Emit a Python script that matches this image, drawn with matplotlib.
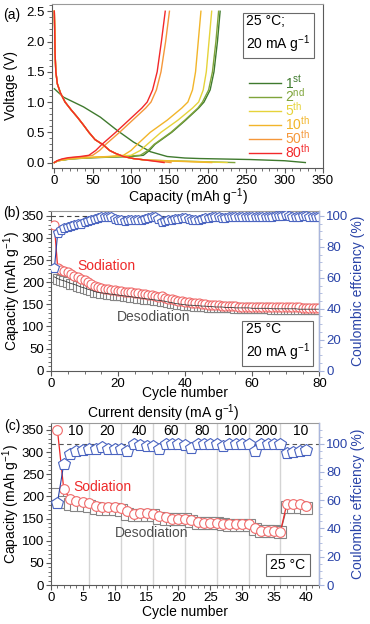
import matplotlib
matplotlib.use("Agg")
import matplotlib.pyplot as plt
import matplotlib.transforms as mtransforms
from matplotlib.ticker import AutoMinorLocator, MultipleLocator

plt.rcParams['font.family'] = ['Liberation Sans', 'DejaVu Sans']
plt.rcParams['mathtext.fontset'] = 'custom'
plt.rcParams['mathtext.rm'] = 'Liberation Sans'
plt.rcParams['mathtext.it'] = 'Liberation Sans:italic'
plt.rcParams['mathtext.bf'] = 'Liberation Sans:bold'

# ---------------- panel (a): voltage profiles ----------------
cycle_names = ['1$^{\\rm st}$', '2$^{\\rm nd}$', '5$^{\\rm th}$', '10$^{\\rm th}$', '50$^{\\rm th}$', '80$^{\\rm th}$']
cycle_colors = ['#3f7a2e', '#7fa43a', '#e6d33a', '#f2b52a', '#f5973a', '#f2282a']

# 1st discharge (sodiation)
dis1_cap = [0, 12, 38, 60, 82, 103, 125, 147, 170, 190, 255, 300, 327]
dis1_v = [1.22, 1.08, 0.92, 0.75, 0.53, 0.34, 0.18, 0.10, 0.075, 0.066, 0.05, 0.03, 0.0]

# later discharges share the sloping part, end capacities differ
dis_cap = [0, 0.5, 1, 2, 4, 8, 14, 22, 30, 38, 45, 53, 64, 72, 80, 90, 103, 120]
dis_v = [2.5, 2.2, 1.8, 1.5, 1.3, 1.15, 1.0, 0.87, 0.75, 0.62, 0.5, 0.38, 0.29, 0.2, 0.15, 0.1, 0.066, 0.04]
dis_end = [235, 225, 205, 152, 143]   # 2nd, 5th, 10th, 50th, 80th

# charge (desodiation) capacities read at these voltages
chg_v = [0.0, 0.03, 0.06, 0.08, 0.1, 0.12, 0.2, 0.3, 0.5, 0.7, 0.9, 1.0, 1.2, 1.5, 2.0, 2.5]
chg1 = [0, 5, 22, 50, 100, 116, 124, 131, 153, 171, 188, 195, 203, 208, 212.5, 216]
chg2 = [0, 5, 20, 45, 90, 112, 122, 130, 152, 170, 187, 193, 201, 206, 210.5, 214]
chg5 = [0, 5, 20, 42, 78, 100, 112, 121, 139, 161, 180, 188, 194, 198, 201.5, 205]
chg10 = [0, 5, 18, 38, 70, 90, 100, 108, 125, 147, 166, 174, 180, 184, 187.5, 191]
chg50 = [0, 4, 12, 22, 40, 50, 59, 67, 85, 102, 119, 126, 133, 139, 145, 150]
chg80 = [0, 3.5, 10, 18, 34, 45, 54, 62, 80, 97, 114, 121, 128, 134, 139.5, 144.5]

# ---------------- panel (b): 80 cycles at 20 mA/g ----------------
cyc_b = list(range(1, 81))
sod_b = [329, 232, 228, 226, 224, 218, 214, 211, 207, 204,
         200, 196, 192, 189, 187, 185, 184, 183, 182, 181,
         180, 179, 178, 177, 176, 175, 174, 173, 171, 170,
         168, 166, 168, 164, 162, 161, 160, 158, 157, 156,
         155, 154, 153, 152, 151, 150, 149, 149, 148, 148,
         147, 147, 146, 146, 146, 145, 145, 145, 145, 145,
         145, 144, 144, 144, 144, 144, 144, 143, 143, 143,
         143, 143, 143, 143, 142, 142, 142, 142, 142, 142]
desod_b = [212, 208, 205, 203, 200, 197, 195, 192, 189, 187,
           184, 182, 179, 177, 176, 175, 174, 173, 172, 171,
           170, 169, 168, 167, 166, 165, 164, 163, 162, 161,
           160, 159, 158, 157, 155, 154, 152, 151, 150, 149,
           148, 148, 147, 147, 146, 146, 145, 145, 144, 144,
           144, 143, 143, 143, 142, 142, 142, 142, 142, 141,
           141, 141, 141, 141, 141, 140, 140, 140, 140, 140,
           140, 140, 140, 139, 139, 139, 139, 139, 139, 139]
ce_b = [66, 89, 91, 92, 93, 93.5, 94, 95, 95, 96,
        96.5, 97, 98, 98.5, 99, 99.5, 99.5, 99, 98, 97.5,
        97, 96.5, 97, 97.5, 97.5, 97, 97.5, 98, 98.5, 99,
        99.5, 98, 96, 96.5, 97, 97.5, 98, 98, 98.5, 98.5,
        98, 97.5, 97, 97.5, 98, 98.5, 98.5, 99, 99, 99,
        98.5, 98.5, 99, 99, 99.5, 99, 99, 99.5, 99.5, 99.5,
        99, 99, 99.5, 99.5, 99, 99.5, 100, 100, 100, 100.5,
        100, 99.5, 99, 99.5, 100, 100, 99.5, 99, 99, 99.5]

# ---------------- panel (c): rate test ----------------
cyc_c = list(range(1, 41))
sod_c = [351, 217, 193, 190, 188, 186, 178, 175, 175, 175,
         173, 166, 160, 162, 162, 160, 156, 153, 150, 150,
         150, 147, 143, 141, 141, 141, 138, 137, 137, 137,
         137, 129, 123, 122, 122, 120, 183, 182, 183, 178]
desod_c = [205, 188, 182, 180, 180, 178, 174, 172, 172, 172,
           170, 160, 158, 158, 158, 158, 152, 150, 150, 150,
           148, 144, 141, 141, 140, 140, 137, 135, 135, 135,
           135, 127, 122, 121, 121, 120, 175, 175, 175, 174]
ce_c = [58, 85.5, 93, 95, 95.7, 96.2, 96.5, 97.5, 96.5, 96.5,
        96, 94.5, 99.5, 99, 98.5, 98.5, 96, 99.5, 99.5, 99.5,
        99.3, 97, 99.5, 99.5, 99.5, 99.5, 98, 99.5, 99.5, 99.5,
        99.5, 95, 99.5, 99.5, 99.5, 99.5, 93.5, 94, 94.6, 95.7]
rate_labels = ['10', '20', '40', '60', '80', '100', '200', '10']
rate_x = [3.9, 8.8, 13.8, 18.8, 23.7, 28.9, 33.7, 39.2]
rate_edges = [6, 11, 16, 21, 26, 31, 36]

RED = '#ee2a2a'
RED_M = '#f06a6a'
GRAY_M = '#858585'
DARK = '#3a3a3a'
BLUE = '#2a44a8'
BLUE_M = '#4a64c0'
BLUE_AX = '#a9b6dc'
FS = 9.5


def style_axes(ax):
    for s in ax.spines.values():
        s.set_color('#5a5a5a')
        s.set_linewidth(0.8)
    ax.spines['top'].set_color('#9a9a9a')
    ax.tick_params(which='major', direction='out', length=3.5, width=0.8,
                   labelsize=FS, pad=1.5, color='#5a5a5a')
    ax.tick_params(which='minor', direction='out', length=2, width=0.6, color='#5a5a5a')
    ax.tick_params(top=False, right=False)


def style_right(ax):
    ax.spines['right'].set_color(BLUE_AX)
    ax.spines['right'].set_linewidth(1.0)
    ax.tick_params(axis='y', which='major', direction='out', length=3.5, width=0.8,
                   labelsize=FS, pad=1.5, color=BLUE_AX, labelcolor=BLUE)
    ax.tick_params(axis='y', which='minor', direction='out', length=2, width=0.6, color=BLUE_AX)
    ax.set_ylabel('Coulombic effciency (%)', fontsize=10, color=BLUE)
    ax.yaxis.label.set_va('center')


fig = plt.figure(figsize=(3.7, 6.24), dpi=100)
ax_a = fig.add_axes([52 / 370, 1 - 168 / 624, 271 / 370, 164 / 624])
ax_b = fig.add_axes([51 / 370, 1 - 370.7 / 624, 268.3 / 370, 159.7 / 624])
ax_c = fig.add_axes([51 / 370, 1 - 585 / 624, 268.3 / 370, 161.7 / 624])

# ---- (a)
chg_all = [chg1, chg2, chg5, chg10, chg50, chg80]
ax_a.plot(dis1_cap, dis1_v, color=cycle_colors[0], lw=1.0, label=cycle_names[0])
ax_a.plot(chg1, chg_v, color=cycle_colors[0], lw=1.0)
for i in range(1, 6):
    xs = dis_cap + [dis_end[i - 1]]
    ys = dis_v + [0.0]
    ax_a.plot(xs, ys, color=cycle_colors[i], lw=1.0, label=cycle_names[i])
    ax_a.plot(chg_all[i], chg_v, color=cycle_colors[i], lw=1.0)

style_axes(ax_a)
ax_a.set_xlim(-3, 350)
ax_a.set_ylim(-0.09, 2.62)
ax_a.xaxis.set_major_locator(MultipleLocator(50))
ax_a.yaxis.set_major_locator(MultipleLocator(0.5))
ax_a.xaxis.set_minor_locator(AutoMinorLocator(5))
ax_a.yaxis.set_minor_locator(AutoMinorLocator(5))
ax_a.set_xlabel('Capacity (mAh g$^{-1}$)', fontsize=10)
ax_a.set_ylabel('Voltage (V)', fontsize=10)
ax_a.xaxis.set_label_coords(0.5, (168 - 197) / 164)
ax_a.xaxis.label.set_va('center')
ax_a.yaxis.set_label_coords((11 - 52) / 271, 0.5)
ax_a.yaxis.label.set_va('center')
ax_a.text(0.716, 0.815, '25 \u00b0C;\n20 mA g$^{-1}$', transform=ax_a.transAxes,
          fontsize=10, ha='left', va='center', linespacing=1.35,
          bbox=dict(boxstyle='square,pad=0.25', fc='white', ec='#6a6a6a', lw=0.8))
leg = ax_a.legend(loc='upper left', bbox_to_anchor=(0.727, 0.576), frameon=False,
                  fontsize=10, handlelength=2.3, handletextpad=0.3,
                  labelspacing=-0.29, borderpad=0, borderaxespad=0, labelcolor='linecolor')

# ---- (b)
ax_b.plot(cyc_b, desod_b, color=DARK, lw=0.8, marker='s', ms=6.5, mfc='white',
          mec=GRAY_M, mew=0.8, zorder=2)
ax_b.plot(cyc_b, sod_b, color=RED, lw=0.9, marker='o', ms=6.5, mfc='white',
          mec=RED_M, mew=0.8, zorder=3)
ax_b.plot(cyc_b, desod_b, color=DARK, lw=0.6, zorder=4)
style_axes(ax_b)
ax_b.set_xlim(0, 80)
ax_b.set_ylim(0, 361)
ax_b.xaxis.set_major_locator(MultipleLocator(20))
ax_b.xaxis.set_minor_locator(AutoMinorLocator(4))
ax_b.yaxis.set_major_locator(MultipleLocator(50))
ax_b.yaxis.set_minor_locator(AutoMinorLocator(5))
ax_b.set_xlabel('Cycle number', fontsize=10)
ax_b.set_ylabel('Capacity (mAh g$^{-1}$)', fontsize=10)
ax_b.xaxis.set_label_coords(0.5, (370.7 - 392.5) / 159.7)
ax_b.xaxis.label.set_va('center')
ax_b.yaxis.set_label_coords((12 - 51) / 268.3, 0.5)
ax_b.yaxis.label.set_va('center')
ax_b.text(16.6, 236, 'Sodiation', color=RED, fontsize=10, ha='center', va='center')
ax_b.text(30.6, 122, 'Desodiation', color='#505050', fontsize=10, ha='center', va='center')
ax_b.text(58.0, 64, '25 \u00b0C\n20 mA g$^{-1}$', fontsize=10, ha='left', va='center',
          linespacing=1.35, bbox=dict(boxstyle='square,pad=0.25', fc='white', ec='#6a6a6a', lw=0.8))

ax_b2 = ax_b.twinx()
ax_b2.plot(cyc_b, ce_b, color=BLUE, lw=0.8, marker='p', ms=7.5, mfc='white',
           mec=BLUE_M, mew=0.8)
ax_b2.axhline(100, color='#444444', lw=0.8, ls=(0, (4, 3)), zorder=0)
ax_b2.set_ylim(0, 103.1)
ax_b2.yaxis.set_major_locator(MultipleLocator(20))
ax_b2.yaxis.set_minor_locator(AutoMinorLocator(4))
for s in ['left', 'top', 'bottom']:
    ax_b2.spines[s].set_visible(False)
style_right(ax_b2)
ax_b2.yaxis.set_label_coords((358 - 51) / 268.3, 0.5)

# ---- (c)
for xe in rate_edges:
    ax_c.axvline(xe, color='#d4d4d4', lw=1.0, zorder=0)
ax_c.plot(cyc_c, desod_c, color='#7a7a7a', lw=0.9, marker='s', ms=8.5, mfc='white',
          mec=GRAY_M, mew=0.8, zorder=2)
ax_c.plot(cyc_c, sod_c, color=RED, lw=0.9, marker='o', ms=7, mfc='white',
          mec=RED_M, mew=0.8, zorder=3)
style_axes(ax_c)
ax_c.set_xlim(0, 42.1)
ax_c.set_ylim(0, 365)
ax_c.xaxis.set_major_locator(MultipleLocator(5))
ax_c.xaxis.set_minor_locator(AutoMinorLocator(5))
ax_c.yaxis.set_major_locator(MultipleLocator(50))
ax_c.yaxis.set_minor_locator(AutoMinorLocator(5))
ax_c.set_xlabel('Cycle number', fontsize=10)
ax_c.set_ylabel('Capacity (mAh g$^{-1}$)', fontsize=10)
ax_c.xaxis.set_label_coords(0.5, (585 - 612) / 161.7)
ax_c.xaxis.label.set_va('center')
ax_c.yaxis.set_label_coords((11 - 51) / 268.3, 0.5)
ax_c.yaxis.label.set_va('center')
ax_c.text(8.1, 222, 'Sodiation', color=RED, fontsize=10, ha='center', va='center')
ax_c.text(15.8, 118, 'Desodiation', color='#505050', fontsize=10, ha='center', va='center')
ax_c.text(34.4, 45, '25 \u00b0C', fontsize=10, ha='left', va='center',
          bbox=dict(boxstyle='square,pad=0.3', fc='white', ec='#6a6a6a', lw=0.8))
trans = mtransforms.blended_transform_factory(ax_c.transData, ax_c.transAxes)
for xl, lbl in zip(rate_x, rate_labels):
    ax_c.text(xl, 0.955, lbl, transform=trans, fontsize=10, ha='center', va='center')

ax_c2 = ax_c.twinx()
ax_c2.plot(cyc_c, ce_c, color=BLUE, lw=0.8, marker='p', ms=9, mfc='white',
           mec=BLUE_M, mew=0.8)
ax_c2.axhline(100, color='#555555', lw=0.8, ls=(0, (4, 3)), zorder=0)
ax_c2.set_ylim(0, 114.4)
ax_c2.yaxis.set_major_locator(MultipleLocator(20))
ax_c2.yaxis.set_minor_locator(AutoMinorLocator(4))
for s in ['left', 'top', 'bottom']:
    ax_c2.spines[s].set_visible(False)
style_right(ax_c2)
ax_c2.yaxis.set_label_coords((358 - 51) / 268.3, 0.5)

fig.text(163.5 / 370, 1 - 413 / 624, 'Current density (mA g$^{-1}$)', fontsize=10,
         ha='center', va='center')
fig.text(12 / 370, 1 - 15 / 624, '(a)', fontsize=10, ha='center', va='center')
fig.text(12 / 370, 1 - 213 / 624, '(b)', fontsize=10, ha='center', va='center')
fig.text(12 / 370, 1 - 426 / 624, '(c)', fontsize=10, ha='center', va='center')

fig.savefig('out.png', dpi=100)
